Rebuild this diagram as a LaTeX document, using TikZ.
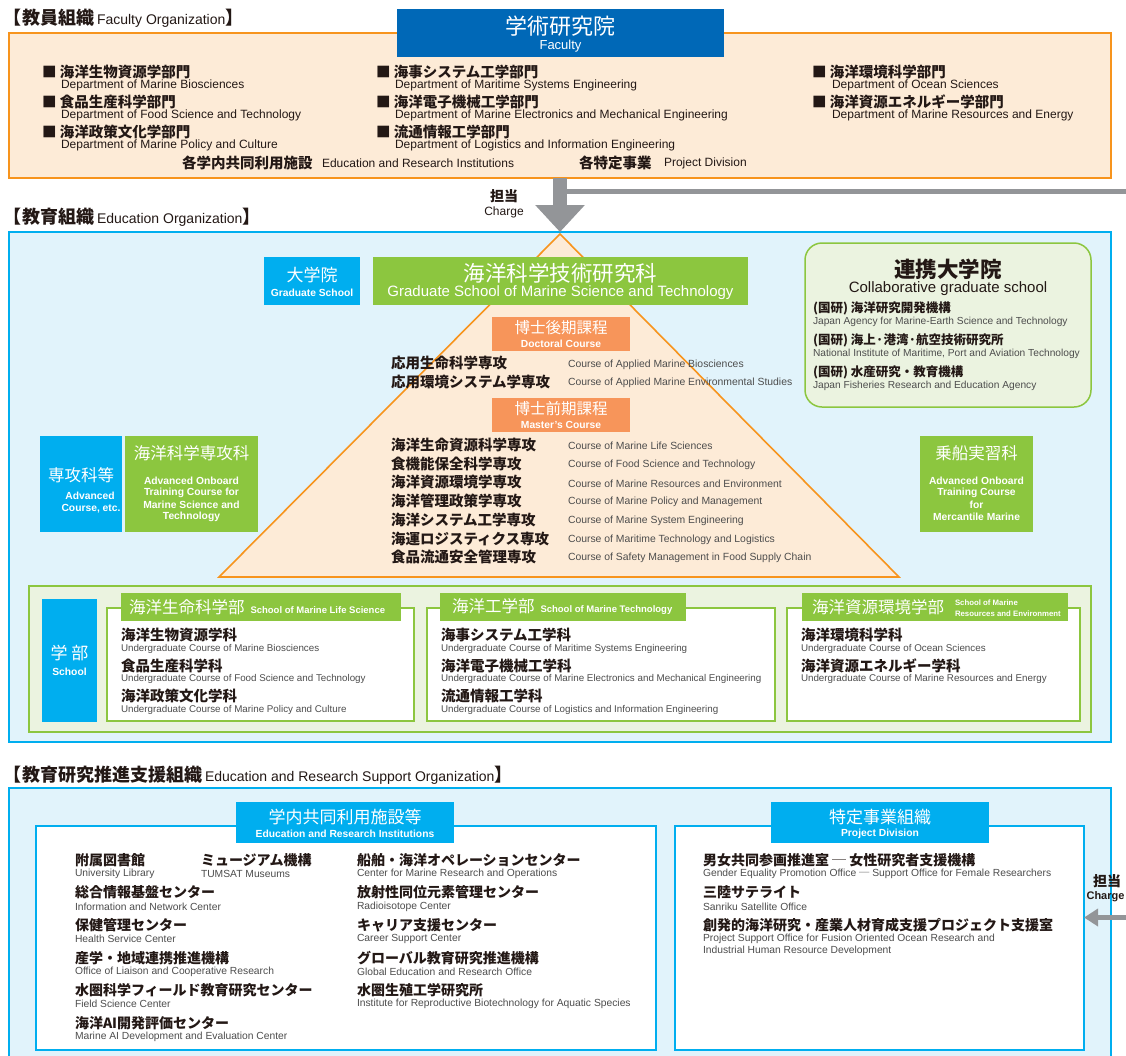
\documentclass[tikz,border=0pt]{standalone}
\usepackage{fontspec}
\setmainfont{Liberation Sans}
\newfontfamily\jp{Noto Sans CJK JP}
\usetikzlibrary{arrows.meta,fit}
\definecolor{ora}{HTML}{F7941D}
\definecolor{peach}{HTML}{FDEBD7}
\definecolor{fblue}{HTML}{0068B7}
\definecolor{cyanb}{HTML}{00AEEF}
\definecolor{lcyan}{HTML}{E1F3FB}
\definecolor{grn}{HTML}{8CC63F}
\definecolor{lgrn}{HTML}{EBF3E0}
\definecolor{oboxc}{HTML}{F7955A}
\definecolor{arrg}{HTML}{939598}
\definecolor{txt}{HTML}{231815}
\definecolor{etxt}{HTML}{4D4D4D}
\newcommand\myfs[1]{\fontsize{#1}{#1}\selectfont}
\newcommand\jb{\jp\bfseries}
\begin{document}
\begin{tikzpicture}[x=1pt,y=-1pt,
  lbl/.style={inner sep=0pt, outer sep=0pt, anchor=west, text=txt},
  ctr/.style={inner sep=0pt, outer sep=0pt, anchor=center},
  wt/.style={ctr, text=white},
  fjp/.style={lbl, font=\jb\myfs{14.5}},
  fen/.style={lbl, font=\myfs{12}},
  cjp/.style={lbl, font=\jb\myfs{14.5}},
  cen/.style={lbl, font=\myfs{10.4}, text=etxt},
  ujp/.style={lbl, font=\jb\myfs{14.5}},
  uen/.style={lbl, font=\myfs{9.8}, text=etxt},
  sjp/.style={lbl, font=\jb\myfs{14}},
  sen/.style={lbl, font=\myfs{10.3}, text=etxt},
  kjp/.style={lbl, font=\jb\myfs{12.5}},
  ken/.style={lbl, font=\myfs{10.2}, text=etxt},
  rbox/.style={inner sep=0pt, outer sep=0pt},
  wlt/.style={wt, font=\bfseries\myfs{10.3}},
  blockarrow/.style={arrg, line width=14pt, -{Triangle[width=48pt,length=27pt]}},
  thinarrow/.style={arrg, line width=5pt},
]
\clip (0,0) rectangle (1126,1055);
\fill[white] (0,0) rectangle (1126,1055);

% ================= Faculty =================
\node[lbl, font=\myfs{18}] (t1) at (4,18) {{\jb【教員組織}\,{\myfs{14}Faculty Organization}{\jb】}};
\node[rbox, fit={(9,33) (1111,178)}, draw=ora, fill=peach, line width=1.5pt] (fac) {};
\node[rbox, fit={(397,9) (724,57)}, fill=fblue] (gak) {};
\node[wt, font=\jp\myfs{22}] (gakj) at (560.5,26) {学術研究院};
\node[wt, font=\myfs{13}] (gake) at (560.5,46) {Faculty};

\node[fjp] (f11) at (42,72) {■ 海洋生物資源学部門};
\node[fen] (f11e) at (61,85.5) {Department of Marine Biosciences};
\node[fjp] (f12) at (42,102) {■ 食品生産科学部門};
\node[fen] (f12e) at (61,115.5) {Department of Food Science and Technology};
\node[fjp] (f13) at (42,132) {■ 海洋政策文化学部門};
\node[fen] (f13e) at (61,145.5) {Department of Marine Policy and Culture};

\node[fjp] (f21) at (376,72) {■ 海事システム工学部門};
\node[fen] (f21e) at (395,85.5) {Department of Maritime Systems Engineering};
\node[fjp] (f22) at (376,102) {■ 海洋電子機械工学部門};
\node[fen] (f22e) at (395,115.5) {Department of Marine Electronics and Mechanical Engineering};
\node[fjp] (f23) at (376,132) {■ 流通情報工学部門};
\node[fen] (f23e) at (395,145.5) {Department of Logistics and Information Engineering};

\node[fjp] (f31) at (812,72) {■ 海洋環境科学部門};
\node[fen] (f31e) at (832,85.5) {Department of Ocean Sciences};
\node[fjp] (f32) at (812,102) {■ 海洋資源エネルギー学部門};
\node[fen] (f32e) at (832,115.5) {Department of Marine Resources and Energy};

\node[fjp] (fb1) at (182,163) {各学内共同利用施設};
\node[fen] (fb1e) at (322,163) {Education and Research Institutions};
\node[fjp] (fb2) at (579,163) {各特定事業};
\node[fen] (fb2e) at (664,163) {Project Division};

\node[ctr, font=\jb\myfs{14}, text=txt] (ch1) at (504,196) {担当};
\node[ctr, font=\myfs{12}, text=txt] (ch1e) at (504,212) {Charge};

% ================= Education =================
\node[lbl, font=\myfs{18}] (t2) at (4,217) {{\jb【教育組織}\,{\myfs{14}Education Organization}{\jb】}};
\node[rbox, fit={(9,232) (1111,742)}, draw=cyanb, fill=lcyan, line width=1.5pt] (edu) {};

\draw[ora, fill=peach, line width=1.6pt] (560,234) -- (899,577) -- (219,577) -- cycle;

\node[rbox, fit={(264,257) (360,305)}, fill=cyanb] (dai) {};
\node[wt, font=\jp\myfs{17}] (daij) at (312,275) {大学院};
\node[wlt] (daie) at (312,293) {Graduate School};

\node[rbox, fit={(373,257) (748,305)}, fill=grn] (gs) {};
\node[wt, font=\jp\myfs{21.5}] (gsj) at (560.5,273) {海洋科学技術研究科};
\node[wt, font=\myfs{15}] (gse) at (560.5,293) {Graduate School of Marine Science and Technology};

\node[rbox, fit={(492,317) (630,351)}, fill=oboxc] (doc) {};
\node[wt, font=\jp\myfs{15.5}] (docj) at (561,328) {博士後期課程};
\node[wlt] (doce) at (561,343.5) {Doctoral Course};
\node[cjp] (d1) at (391,363) {応用生命科学専攻};
\node[cen] (d1e) at (568,364.5) {Course of Applied Marine Biosciences};
\node[cjp] (d2) at (391,382) {応用環境システム学専攻};
\node[cen] (d2e) at (568,383) {Course of Applied Marine Environmental Studies};

\node[rbox, fit={(492,398) (630,432)}, fill=oboxc] (mas) {};
\node[wt, font=\jp\myfs{15.5}] (masj) at (561,409) {博士前期課程};
\node[wlt] (mase) at (561,424.5) {Master's Course};
\node[cjp] (m1) at (391,445) {海洋生命資源科学専攻};
\node[cen] (m1e) at (568,446) {Course of Marine Life Sciences};
\node[cjp] (m2) at (391,463.7) {食機能保全科学専攻};
\node[cen] (m2e) at (568,464.7) {Course of Food Science and Technology};
\node[cjp] (m3) at (391,482.4) {海洋資源環境学専攻};
\node[cen] (m3e) at (568,483.4) {Course of Marine Resources and Environment};
\node[cjp] (m4) at (391,501.1) {海洋管理政策学専攻};
\node[cen] (m4e) at (568,502.1) {Course of Marine Policy and Management};
\node[cjp] (m5) at (391,519.8) {海洋システム工学専攻};
\node[cen] (m5e) at (568,520.8) {Course of Marine System Engineering};
\node[cjp] (m6) at (391,538.5) {海運ロジスティクス専攻};
\node[cen] (m6e) at (568,539.5) {Course of Maritime Technology and Logistics};
\node[cjp] (m7) at (391,557.2) {食品流通安全管理専攻};
\node[cen] (m7e) at (568,558.2) {Course of Safety Management in Food Supply Chain};

% collaborative
\node[rbox, fit={(805,243) (1091,407)}, draw=grn, fill=lgrn, line width=1.5pt, rounded corners=17pt] (ren) {};
\node[ctr, font=\jb\myfs{21.5}, text=txt] (renj) at (948,269) {連携大学院};
\node[ctr, font=\myfs{15}, text=txt] (rene) at (948,289) {Collaborative graduate school};
\node[kjp] (k1) at (813,308.5) {(国研) 海洋研究開発機構};
\node[ken] (k1e) at (813,322) {Japan Agency for Marine-Earth Science and Technology};
\node[kjp] (k2) at (813,340.5) {(国研) 海上·港湾·航空技術研究所};
\node[ken] (k2e) at (813,353.5) {National Institute of Maritime, Port and Aviation Technology};
\node[kjp] (k3) at (813,372.5) {(国研) 水産研究・教育機構};
\node[ken] (k3e) at (813,385.5) {Japan Fisheries Research and Education Agency};

% advanced courses
\node[rbox, fit={(40,436) (122,532)}, fill=cyanb] (sen) {};
\node[wt, font=\jp\myfs{16.5}] (senj) at (81,475) {専攻科等};
\node[wlt] (sene1) at (90,496) {Advanced};
\node[wlt] (sene2) at (91,509) {Course, etc.};

\node[rbox, fit={(125,436) (258,532)}, fill=grn] (kss) {};
\node[wt, font=\jp\myfs{16.5}] (kssj) at (191.5,453.5) {海洋科学専攻科};
\node[wlt] (ksse1) at (191.5,481) {Advanced Onboard};
\node[wlt] (ksse2) at (191.5,493) {Training Course for};
\node[wlt] (ksse3) at (191.5,505) {Marine Science and};
\node[wlt] (ksse4) at (191.5,517) {Technology};

\node[rbox, fit={(920,436) (1033,532)}, fill=grn] (jos) {};
\node[wt, font=\jp\myfs{16.5}] (josj) at (976.5,453.5) {乗船実習科};
\node[wlt] (jose1) at (976.5,481) {Advanced Onboard};
\node[wlt] (jose2) at (976.5,493) {Training Course};
\node[wlt] (jose3) at (976.5,505) {for};
\node[wlt] (jose4) at (976.5,517) {Mercantile Marine};

% schools
\node[rbox, fit={(29,586) (1091,732)}, draw=grn, fill=lgrn, line width=1.5pt] (sch) {};
\node[rbox, fit={(42,599) (97,722)}, fill=cyanb] (gb) {};
\node[wt, font=\jp\myfs{17}] (gbj) at (69.5,653) {学\hspace{4pt}部};
\node[wlt] (gbe) at (69.5,672) {School};

\node[rbox, fit={(107,608) (414,721)}, draw=grn, fill=white, line width=1.5pt] (sb1) {};
\node[rbox, fit={(121,593) (401,621)}, fill=grn] (hd1) {};
\node[lbl, text=white] (hd1t) at (129,607) {{\jp\myfs{16.5}海洋生命科学部}\hspace{6pt}{\bfseries\myfs{9.5}School of Marine Life Science}};
\node[ujp] (u11) at (121,635) {海洋生物資源学科};
\node[uen] (u11e) at (121,648.5) {Undergraduate Course of Marine Biosciences};
\node[ujp] (u12) at (121,665.5) {食品生産科学科};
\node[uen] (u12e) at (121,679) {Undergraduate Course of Food Science and Technology};
\node[ujp] (u13) at (121,696) {海洋政策文化学科};
\node[uen] (u13e) at (121,709.5) {Undergraduate Course of Marine Policy and Culture};

\node[rbox, fit={(427,608) (775,721)}, draw=grn, fill=white, line width=1.5pt] (sb2) {};
\node[rbox, fit={(440,593) (686,621)}, fill=grn] (hd2) {};
\node[lbl, text=white] (hd2t) at (452,607) {{\jp\myfs{16.5}海洋工学部}\hspace{6pt}{\bfseries\myfs{9.5}School of Marine Technology}};
\node[ujp] (u21) at (441,635) {海事システム工学科};
\node[uen] (u21e) at (441,648.5) {Undergraduate Course of Maritime Systems Engineering};
\node[ujp] (u22) at (441,665.5) {海洋電子機械工学科};
\node[uen] (u22e) at (441,679) {Undergraduate Course of Marine Electronics and Mechanical Engineering};
\node[ujp] (u23) at (441,696) {流通情報工学科};
\node[uen] (u23e) at (441,709.5) {Undergraduate Course of Logistics and Information Engineering};

\node[rbox, fit={(787,608) (1080,721)}, draw=grn, fill=white, line width=1.5pt] (sb3) {};
\node[rbox, fit={(802,593) (1068,621)}, fill=grn] (hd3) {};
\node[lbl, text=white, font=\jp\myfs{16.5}] (hd3t) at (812,607) {海洋資源環境学部};
\node[lbl, text=white, font=\bfseries\myfs{7.8}] (hd3e1) at (955,602.5) {School of Marine};
\node[lbl, text=white, font=\bfseries\myfs{7.8}] (hd3e2) at (955,613.5) {Resources and Environment};
\node[ujp] (u31) at (801,635) {海洋環境科学科};
\node[uen] (u31e) at (801,648.5) {Undergraduate Course of Ocean Sciences};
\node[ujp] (u32) at (801,665.5) {海洋資源エネルギー学科};
\node[uen] (u32e) at (801,679) {Undergraduate Course of Marine Resources and Energy};

% arrow faculty -> education
\draw[thinarrow] (560,191.5) -- coordinate[pos=1] (grr) (1127,191.5);
\draw[blockarrow] (fac.south) -- (edu.north);

% ================= Support =================
\node[lbl, font=\myfs{18}] (t3) at (4,775) {{\jb【教育研究推進支援組織}\,{\myfs{14}Education and Research Support Organization}{\jb】}};
\node[rbox, fit={(9,788) (1111,1075)}, draw=cyanb, fill=lcyan, line width=1.5pt] (sup) {};

\node[rbox, fit={(36,826) (656,1050)}, draw=cyanb, fill=white, line width=1.5pt] (ins) {};
\node[rbox, fit={(236,802) (454,843)}, fill=cyanb] (insh) {};
\node[wt, font=\jp\myfs{17}] (inshj) at (345,817) {学内共同利用施設等};
\node[wlt] (inshe) at (345,833.5) {Education and Research Institutions};

\node[sjp] (s11) at (75,860) {附属図書館};
\node[sen] (s11e) at (75,874) {University Library};
\node[sjp] (s12) at (201,860) {ミュージアム機構};
\node[sen] (s12e) at (201,874) {TUMSAT Museums};
\node[sjp] (s13) at (75,892.5) {総合情報基盤センター};
\node[sen] (s13e) at (75,906.5) {Information and Network Center};
\node[sjp] (s14) at (75,925) {保健管理センター};
\node[sen] (s14e) at (75,939) {Health Service Center};
\node[sjp] (s15) at (75,958) {産学・地域連携推進機構};
\node[sen] (s15e) at (75,972) {Office of Liaison and Cooperative Research};
\node[sjp] (s16) at (75,990) {水圏科学フィールド教育研究センター};
\node[sen] (s16e) at (75,1004) {Field Science Center};
\node[sjp] (s17) at (75,1023) {海洋AI開発評価センター};
\node[sen] (s17e) at (75,1037) {Marine AI Development and Evaluation Center};

\node[sjp] (s21) at (357,860) {船舶・海洋オペレーションセンター};
\node[sen] (s21e) at (357,874) {Center for Marine Research and Operations};
\node[sjp] (s22) at (357,892.5) {放射性同位元素管理センター};
\node[sen] (s22e) at (357,906.5) {Radioisotope Center};
\node[sjp] (s23) at (357,925) {キャリア支援センター};
\node[sen] (s23e) at (357,939) {Career Support Center};
\node[sjp] (s24) at (357,958) {グローバル教育研究推進機構};
\node[sen] (s24e) at (357,972) {Global Education and Research Office};
\node[sjp] (s25) at (357,990) {水圏生殖工学研究所};
\node[sen] (s25e) at (357,1004) {Institute for Reproductive Biotechnology for Aquatic Species};

\node[rbox, fit={(675,826) (1084,1050)}, draw=cyanb, fill=white, line width=1.5pt] (pd) {};
\node[rbox, fit={(771,802) (989,843)}, fill=cyanb] (pdh) {};
\node[wt, font=\jp\myfs{17}] (pdhj) at (880,817) {特定事業組織};
\node[wlt] (pdhe) at (880,833.5) {Project Division};

\node[sjp] (p1) at (703,860) {男女共同参画推進室 ─ 女性研究者支援機構};
\node[sen] (p1e) at (703,874) {Gender Equality Promotion Office {\jp ─} Support Office for Female Researchers};
\node[sjp] (p2) at (703,892.5) {三陸サテライト};
\node[sen] (p2e) at (703,906.5) {Sanriku Satellite Office};
\node[sjp] (p3) at (703,925) {創発的海洋研究・産業人材育成支援プロジェクト支援室};
\node[sen] (p3e) at (703,939) {Project Support Office for Fusion Oriented Ocean Research and};
\node[sen] (p3e2) at (703,951) {Industrial Human Resource Development};

\node[ctr, font=\jb\myfs{14}, text=txt] (ch2) at (1107,881) {担当};
\node[ctr, font=\bfseries\myfs{11}, text=txt] (ch2e) at (1105.5,897) {Charge};
\coordinate (ra) at (1127,917.5);
\draw[arrg, line width=5pt, -{Triangle[width=17pt,length=14pt]}] (ra) -- (pd.east |- ra);
\end{tikzpicture}
\end{document}
